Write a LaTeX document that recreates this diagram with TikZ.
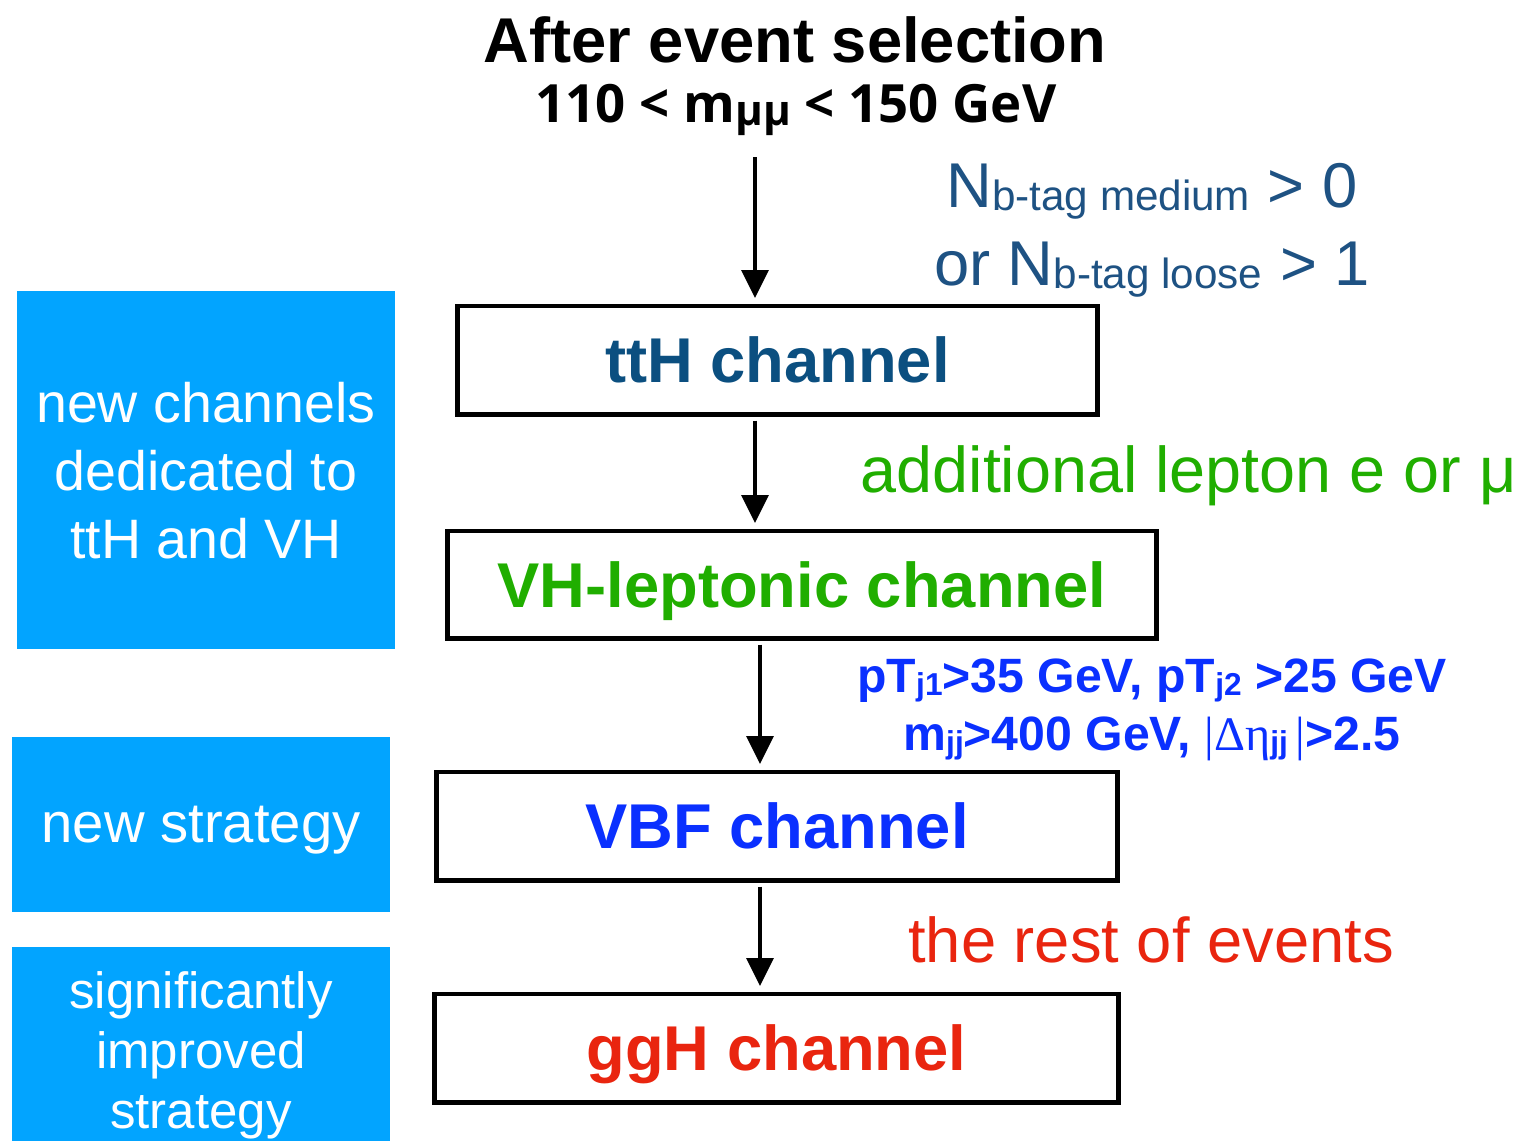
\documentclass[tikz,border=0pt]{standalone}
\usepackage{fontspec}
\setmainfont{Liberation Sans}
\newfontfamily\condfont{Open Sans}
\newfontfamily\greekfont{Liberation Serif}
\usetikzlibrary{arrows.meta,positioning}
\definecolor{tthblue}{HTML}{0B4F80}
\definecolor{nblue}{HTML}{1E5283}
\definecolor{vhgreen}{HTML}{20AE00}
\definecolor{vbfblue}{HTML}{0A30FF}
\definecolor{gghred}{HTML}{E9250F}
\definecolor{sky}{HTML}{02A4FF}
\newcommand\lowsub[2][12]{\raisebox{-1pt}{\fontsize{#1}{#1}\selectfont #2}}
\tikzset{>={Triangle[width=7.5pt,length=8pt]},
  chanbox/.style={draw,line width=1.4pt,inner sep=0pt,text depth=0pt,
    font=\fontsize{18}{18}\selectfont\bfseries},
  flow/.style={->,line width=1.4pt,shorten <=1.2pt,shorten >=1.5pt},
  cut/.style={inner sep=0pt,font=\fontsize{18}{18}\selectfont},
  jetcut/.style={inner sep=0pt,text=vbfblue,font=\fontsize{13.7}{14}\selectfont\bfseries},
  notebox/.style={fill=sky,text=white,align=center,inner sep=0pt,text depth=0pt,
    font=\fontsize{16}{19}\selectfont},
  notetext/.style={text=white,align=center,inner sep=0pt,text depth=0pt}}
\begin{document}
\begin{tikzpicture}[x=0.01cm,y=-0.01cm]
\path[use as bounding box] (0,0) rectangle (1523,1141);
% header
\node[anchor=base,font=\fontsize{18}{18}\selectfont\bfseries] (title) at (795,62) {After event selection};
\node[anchor=base,font=\fontsize{15}{15}\selectfont\condfont\bfseries] (mass) at (796,122) {110 < m\lowsub{μμ} < 150 GeV};
% channels
\node[chanbox,text=tthblue,minimum width=6.39cm,minimum height=1.08cm] (tth) at (777.5,360) {ttH channel};
\node[chanbox,text=vhgreen,minimum width=7.08cm,minimum height=1.07cm] (vh) at (802,584.5) {VH-leptonic channel};
\node[chanbox,text=vbfblue,minimum width=6.8cm,minimum height=1.08cm] (vbf) at (777,826) {VBF channel};
\node[chanbox,text=gghred,minimum width=6.83cm,minimum height=1.08cm] (ggh) at (776.5,1048) {ggH channel};
% selections
\node[cut,text=nblue,anchor=base] (btag) at (1152,207) {N\lowsub{b-tag medium} > 0};
\node[cut,text=nblue,anchor=base] (btagb) at (1152,285) {or N\lowsub{b-tag loose} > 1};
\node[cut,text=vhgreen,anchor=base west,font=\fontsize{18.4}{18}\selectfont] (lep) at (860,492) {additional lepton e or μ};
\node[jetcut,anchor=base] (jets) at (1152,692) {pT\lowsub[9]{j1}>35 GeV, pT\lowsub[9]{j2} >25 GeV};
\node[jetcut,anchor=base] (jetsb) at (1152,750) {m\lowsub[9]{jj}>400 GeV, {\greekfont\mdseries|Δη}\lowsub[9]{jj}\,{\greekfont\mdseries|}>2.5};
\node[cut,text=gghred,anchor=base] (rest) at (1151,962) {the rest of events};
% left notes
\node[notebox,minimum width=3.78cm,minimum height=3.58cm,font=\fontsize{15.8}{19.3}\selectfont] (newch) at (206,470) {new channels\\dedicated to\\ttH and VH};
\node[notebox,minimum width=3.78cm,minimum height=1.75cm] (newstr) at (201,824.5) {new strategy};
\node[notebox,minimum width=3.78cm,minimum height=1.94cm] (better) at (201,1044) {};
\node[notetext,font=\fontsize{14.5}{17.2}\selectfont] (bettertxt) at (201,1050) {significantly\\improved\\strategy};
% arrows
\coordinate (top) at (755,153);
\coordinate (xr) at (760,0);
\draw[flow] (top) -- (top |- tth.north);
\draw[flow] (tth.south -| top) -- (vh.north -| top);
\draw[flow] (vh.south -| xr) -- (vbf.north -| xr);
\draw[flow] (vbf.south -| xr) -- (ggh.north -| xr);
\end{tikzpicture}
\end{document}
